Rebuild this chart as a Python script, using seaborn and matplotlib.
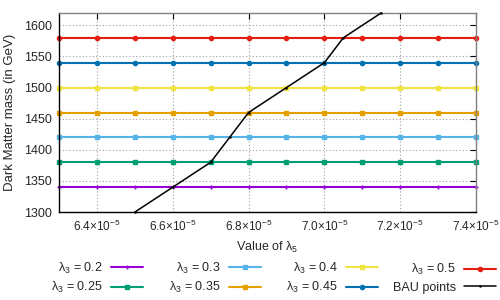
import numpy as np
import pandas as pd
import matplotlib
matplotlib.use("Agg")
import matplotlib.pyplot as plt
import seaborn as sns

# valores
lambda5 = [6.3e-5, 6.4e-5, 6.5e-5, 6.6e-5, 6.7e-5, 6.8e-5, 6.9e-5,
           7.0e-5, 7.1e-5, 7.2e-5, 7.3e-5, 7.4e-5]
lambda3_labels = ["0.2", "0.25", "0.3", "0.35", "0.4", "0.45", "0.5"]
lambda3_mass = [1340, 1380, 1420, 1460, 1500, 1540, 1580]

bau_lambda5 = [6.5e-5, 6.6e-5, 6.7e-5, 6.75e-5, 6.8e-5, 6.9e-5, 7.0e-5, 7.05e-5, 7.15e-5]
bau_mass = [1300, 1340, 1380, 1420, 1460, 1500, 1540, 1580, 1620]

x_ticks = [6.4e-5, 6.6e-5, 6.8e-5, 7.0e-5, 7.2e-5, 7.4e-5]
x_ticklabels = ["6.4×10$^{-5}$", "6.6×10$^{-5}$", "6.8×10$^{-5}$",
                "7.0×10$^{-5}$", "7.2×10$^{-5}$", "7.4×10$^{-5}$"]
y_ticks = [1300, 1350, 1400, 1450, 1500, 1550, 1600]

cores = ["#9400D3", "#009E73", "#56B4E9", "#E69F00", "#F0E442", "#0072B2", "#E51E10"]
marcadores = ["+", "s", "s", "s", "s", "o", "o"]
tamanhos = [3, 2.5, 2.5, 3.5, 3.5, 3, 3]

sns.set_style("white")
plt.rcParams['font.family'] = ['Liberation Sans', 'DejaVu Sans']
plt.rcParams['mathtext.fontset'] = 'custom'
plt.rcParams['mathtext.rm'] = 'Liberation Sans'
plt.rcParams['mathtext.it'] = 'Liberation Sans'

fig = plt.figure(figsize=(5, 3), dpi=100)
ax = fig.add_axes([0.118, 0.293, 0.834, 0.664])

for lab, m, c, mk, ms in zip(lambda3_labels, lambda3_mass, cores, marcadores, tamanhos):
    tabela = pd.DataFrame({"x": lambda5, "y": [m] * len(lambda5)})
    sns.lineplot(data=tabela, x="x", y="y", ax=ax, color=c, lw=1.5,
                 marker=mk, markersize=ms, markeredgecolor=c, markeredgewidth=1,
                 label="λ$_3$ = " + lab, clip_on=False, zorder=2, legend=False)

tabela_bau = pd.DataFrame({"x": bau_lambda5, "y": bau_mass})
sns.lineplot(data=tabela_bau, x="x", y="y", ax=ax, color="black", lw=1.1,
             marker="o", markersize=1.8, markeredgewidth=0, label="BAU points",
             clip_on=False, zorder=3, legend=False)

ax.set_xlim(6.3e-5, 7.4e-5)
ax.set_ylim(1300, 1620)
ax.set_xticks(x_ticks)
ax.set_xticklabels(x_ticklabels, fontsize=8.5)
ax.set_yticks(y_ticks)
ax.set_yticklabels([str(v) for v in y_ticks], fontsize=9)
ax.tick_params(direction="in", length=4, width=0.8, top=True, right=True,
               color="black", pad=5)
ax.grid(True, linestyle=(0, (1, 2)), color="#a0a0a0", lw=0.8)

for lado in ["left", "bottom"]:
    ax.spines[lado].set_color("black")
    ax.spines[lado].set_linewidth(1)
for lado in ["top", "right"]:
    ax.spines[lado].set_color("#808080")
    ax.spines[lado].set_linewidth(1)

ax.set_xlabel("Value of λ$_5$", fontsize=9, labelpad=4)
ax.set_ylabel("Dark Matter mass (in GeV)", fontsize=9.5, labelpad=6)

# legenda em 4 colunas de largura fixa (como no gnuplot)
handles, labels = ax.get_legend_handles_labels()
for i, xr in enumerate([0.286, 0.522, 0.756, 0.992]):
    leg = fig.legend(handles[2 * i:2 * i + 2], labels[2 * i:2 * i + 2],
                     loc="center right", bbox_to_anchor=(xr, 0.073),
                     frameon=False, markerfirst=False, fontsize=9, handlelength=2.6,
                     handletextpad=0.6, labelspacing=0.35, borderpad=0,
                     borderaxespad=0, numpoints=1)

fig.savefig("out.png", dpi=100)
